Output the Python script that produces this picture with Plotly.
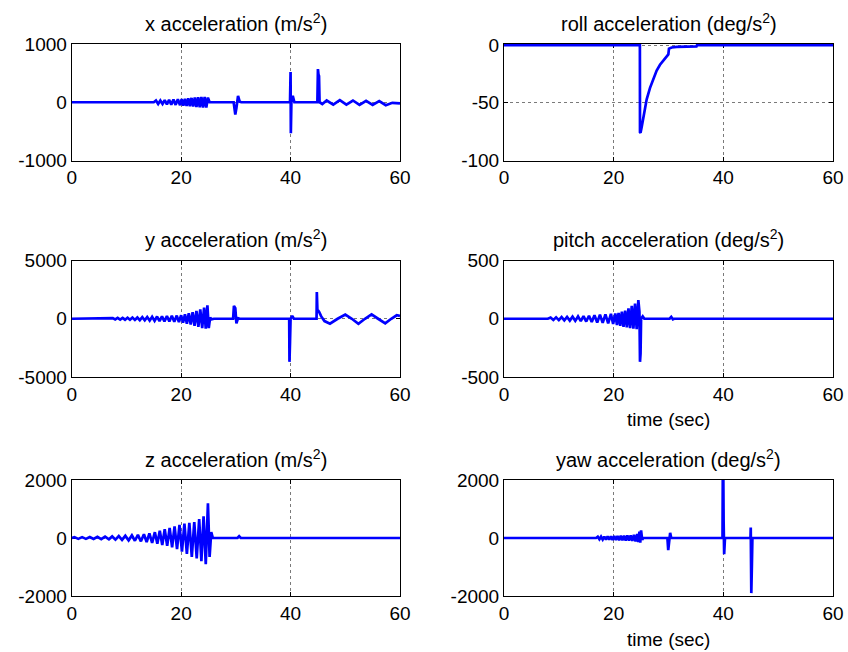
import plotly.graph_objects as go

# ---------------- data ----------------
x_t = [0, 15.0, 15.4, 15.8, 16.2, 16.6, 17.0, 17.4, 17.8, 18.2, 18.6, 19.0, 19.4, 19.8,
       20.1, 20.4, 20.7, 21.0, 21.3, 21.6, 21.9, 22.2, 22.5, 22.8, 23.1, 23.4, 23.7, 24.0,
       24.3, 24.6, 24.9, 25.2, 29.6, 29.9, 30.1, 30.4, 30.7, 31.0, 39.9, 40.0, 40.05, 40.15,
       40.4, 40.7, 44.9, 45.0, 45.1, 45.2, 45.3, 45.8, 46.6, 47.8, 49.0, 50.2, 51.4, 52.6,
       53.8, 55.0, 56.2, 57.4, 58.6, 60.0]
x_v = [0, 0, 30, -30, 30, -30, 35, -35, 40, -40, 45, -45, 50, -50,
       55, -60, 60, -65, 70, -70, 75, -75, 80, -80, 85, -85, 90, -90,
       90, -90, 80, 0, 0, -210, -100, 110, 10, 0, 0, 520, -530, 0,
       110, 0, 0, 570, 480, 450, 0, -30, 30, -40, 35, -40, 30, -45,
       25, -45, 20, -50, -10, -20]

roll_t = [0, 24.78, 24.8, 24.9, 25.11, 25.41, 25.72, 26.02, 26.63, 27.24, 27.84, 28.45,
          29.06, 29.67, 29.97, 30.09, 30.58, 31.5, 33.9, 35.1, 35.2, 60.0]
roll_v = [0, 0, -75.5, -76, -71, -62.5, -54, -47, -37, -28.5, -22, -17,
          -13, -9, -8, -3, -2, -1.5, -1.2, -1.0, 0, 0]

y_t = [0, 7.0, 7.5, 7.95, 8.4, 8.85, 9.3, 9.75, 10.2, 10.65, 11.1, 11.55, 12.0, 12.45,
       12.9, 13.35, 13.8, 14.25, 14.7, 15.15, 15.6, 16.05, 16.5, 16.95, 17.4, 17.85, 18.3,
       18.75, 19.2, 19.6, 20.0, 20.35, 20.7, 21.05, 21.4, 21.75, 22.1, 22.45, 22.8, 23.15,
       23.5, 23.85, 24.2, 24.5, 24.8, 25.05, 25.3, 25.6, 26.0, 29.5, 29.65, 29.9, 30.1,
       30.4, 30.7, 39.75, 39.8, 39.9, 40.0, 40.3, 40.6, 44.75, 44.8, 44.9, 45.2, 45.6,
       46.2, 47.2, 48.6, 50.0, 51.2, 52.4, 53.6, 54.8, 56.0, 57.3, 58.4, 59.4, 60.0]
y_v = [0, 0, 60, -60, 70, -70, 80, -80, 90, -90, 100, -100, 110, -120,
       130, -140, 150, -160, 170, -180, 190, -200, 210, -220, 230, -240, 250,
       -260, 270, -290, 300, -330, 380, -420, 470, -500, 560, -600, 680, -700,
       800, -800, 950, -850, 1150, -800, 100, -50, 0, 0, 1100, 900, -400,
       50, 0, 0, -3700, -2000, 0, 250, 0, 0, 2300, 800, 600, 200,
       -200, -420, 0, 360, 0, -430, 0, 370, 0, -400, 0, 300, 250]

p_t = [0, 8.0, 8.5, 9.0, 9.5, 10.0, 10.5, 11.0, 11.5, 12.0, 12.5, 13.0, 13.5, 14.0,
       14.5, 15.0, 15.5, 16.0, 16.5, 17.0, 17.5, 18.0, 18.5, 19.0, 19.5, 19.9, 20.3,
       20.6, 20.9, 21.2, 21.5, 21.8, 22.1, 22.4, 22.7, 23.0, 23.3, 23.6, 23.9, 24.2,
       24.5, 24.7, 24.8, 24.9, 25.0, 25.3, 25.6, 30.2, 30.5, 30.8, 31.0, 60.0]
p_v = [0, 0, 10, -10, 12, -12, 14, -14, 16, -16, 18, -18, 20, -20,
       22, -24, 26, -28, 30, -32, 34, -36, 38, -40, 42, -45, 45,
       -55, 50, -60, 60, -70, 70, -75, 90, -80, 110, -85, 130, -90,
       160, 60, -370, -300, 0, 20, 0, 0, 15, -5, 0, 0]

z_t = [0, 0.5, 1.2, 1.9, 2.6, 3.3, 4.0, 4.7, 5.4, 6.1, 6.8, 7.4, 8.0, 8.6, 9.2, 9.8,
       10.4, 11.0, 11.55, 12.1, 12.65, 13.2, 13.7, 14.2, 14.7, 15.2, 15.65, 16.1, 16.55,
       17.0, 17.45, 17.9, 18.35, 18.8, 19.25, 19.7, 20.15, 20.6, 21.05, 21.5, 21.95,
       22.4, 22.85, 23.3, 23.7, 24.1, 24.5, 24.9, 25.2, 25.5, 25.8, 30.3, 30.6, 30.9, 60.0]
z_v = [0, 30, -30, 30, -30, 35, -35, 40, -40, 45, -45, 55, -55, 65, -65, 75,
       -80, 90, -95, 110, -115, 130, -140, 160, -170, 200, -200, 250, -240,
       300, -270, 350, -320, 400, -380, 450, -470, 500, -550, 520, -650,
       550, -700, 650, -800, 750, -900, 1200, -650, 200, 0, 0, 60, 0, 0]

w_t = [0, 16.8, 17.1, 17.4, 17.7, 18.0, 18.3, 18.6, 18.9, 19.2, 19.5, 19.8, 20.1, 20.4,
       20.7, 21.0, 21.3, 21.6, 21.9, 22.2, 22.5, 22.8, 23.1, 23.4, 23.7, 24.0, 24.3, 24.5,
       24.7, 24.85, 25.0, 25.2, 25.4, 29.8, 29.95, 30.1, 30.3, 30.5, 39.85, 39.9, 40.0,
       40.05, 40.15, 40.3, 44.95, 45.0, 45.1, 45.2, 45.3, 60.0]
w_v = [0, 0, 45, -45, 45, -50, 50, -55, 55, -60, 60, -65, 65, -70,
       70, -75, 75, -80, 80, -85, 85, -90, 90, -100, 110, -120, 140, -140,
       220, -160, 260, -60, 0, 0, -420, -200, 180, 0, 0, 2100, 2100,
       600, -560, 0, 0, 360, -1900, -1000, 0, 0]

titles = ["x acceleration (m/s<sup>2</sup>)", "roll acceleration (deg/s<sup>2</sup>)",
          "y acceleration (m/s<sup>2</sup>)", "pitch acceleration (deg/s<sup>2</sup>)",
          "z acceleration (m/s<sup>2</sup>)", "yaw acceleration (deg/s<sup>2</sup>)"]
series = [(x_t, x_v), (roll_t, roll_v), (y_t, y_v), (p_t, p_v), (z_t, z_v), (w_t, w_v)]
y_ranges = [[-1000, 1000], [-100, 1], [-5000, 5000], [-500, 500], [-2000, 2000], [-2000, 2000]]
y_ticks = [[-1000, 0, 1000], [-100, -50, 0], [-5000, 0, 5000], [-500, 0, 500],
           [-2000, 0, 2000], [-2000, 0, 2000]]
x_ticks = [0, 20, 40, 60]
xlabels = [None, None, None, "time (sec)", None, "time (sec)"]

# ---------------- layout geometry (page pixels) ----------------
W, H = 848, 652
cols_px = [(71.7, 400.0), (504.0, 833.0)]
rows_px = [(44.0, 160.5), (260.5, 377.0), (480.0, 596.0)]
FONT = "Liberation Sans, Arial, sans-serif"


def px(xp):
    return xp / W


def py(yp):
    return 1 - yp / H


fig = go.Figure()
annotations = []
layout = {}
for i, ((t, v), title) in enumerate(zip(series, titles)):
    r, c = divmod(i, 2)
    n = "" if i == 0 else str(i + 1)
    x0, x1 = cols_px[c]
    top, bot = rows_px[r]
    fig.add_trace(go.Scatter(x=t, y=v, mode="lines", xaxis="x" + n, yaxis="y" + n,
                             line=dict(color="#0000FF", width=2.7), showlegend=False))
    common = dict(showline=True, linecolor="black", linewidth=1, mirror="ticks",
                  ticks="inside", ticklen=4, tickcolor="black", showgrid=True,
                  gridcolor="#7a7a7a", griddash="dot", gridwidth=1, zeroline=False,
                  automargin=False,
                  tickfont=dict(family=FONT, size=19, color="black"), layer="below traces")
    layout["xaxis" + n] = dict(domain=[px(x0), px(x1)], anchor="y" + n, range=[0, 60],
                               tickmode="array", tickvals=x_ticks,
                               ticktext=[str(k) for k in x_ticks], **common)
    layout["yaxis" + n] = dict(domain=[py(bot), py(top)], anchor="x" + n,
                               range=y_ranges[i], tickmode="array", tickvals=y_ticks[i],
                               ticktext=[str(k) for k in y_ticks[i]], **common)
    annotations.append(dict(text=title, x=px((x0 + x1) / 2), y=py(top - 22),
                            xref="paper", yref="paper", showarrow=False,
                            xanchor="center", yanchor="middle",
                            font=dict(family=FONT, size=20, color="black")))
    if xlabels[i]:
        annotations.append(dict(text=xlabels[i], x=px((x0 + x1) / 2), y=py(bot + 43),
                                xref="paper", yref="paper", showarrow=False,
                                xanchor="center", yanchor="middle",
                                font=dict(family=FONT, size=19, color="black")))

fig.update_layout(width=W, height=H,
                  margin=dict(l=0, r=0, t=0, b=0, pad=0, autoexpand=False),
                  paper_bgcolor="white", plot_bgcolor="white",
                  annotations=annotations, **layout)
fig.write_html("out.html", config={"displayModeBar": False},
               post_script="document.body.style.margin='0px';"
                           "document.body.style.overflow='hidden';")
